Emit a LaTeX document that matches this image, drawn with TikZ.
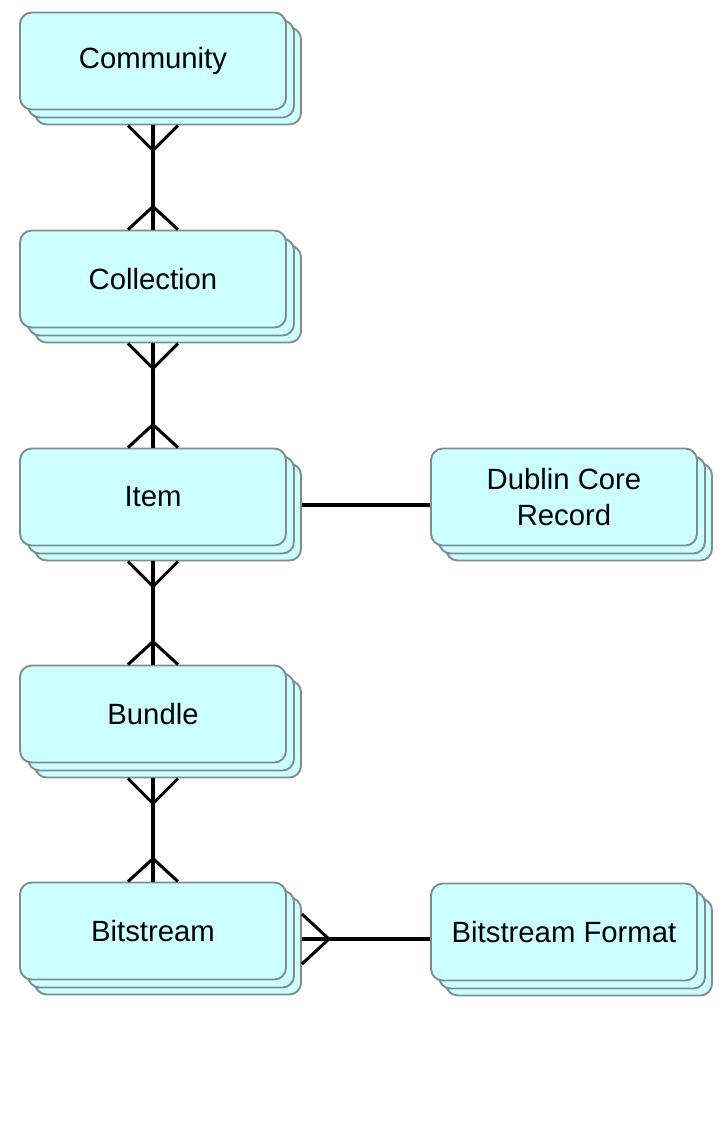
\documentclass[tikz,border=0pt]{standalone}
\usepackage{fontspec}
\setmainfont{Liberation Sans}
\usetikzlibrary{calc}
\definecolor{boxfill}{HTML}{CCFFFF}
\definecolor{boxline}{HTML}{7F8C8C}

\tikzset{
  entity/.style={draw=boxline, line width=1.6pt, fill=boxfill, rounded corners=10pt,
    minimum width=266*0.03cm, minimum height=97*0.03cm, inner sep=0pt,
    align=center, font=\fontsize{25}{31}\selectfont},
  rel/.style={line width=2.6pt, black}
}

% stacked entity: name, x, y (pixel centre of the front box), text
\newcommand{\entity}[4]{
  \node[entity] (#1-b) at (#2+15,#3+15) {};
  \node[entity] (#1-m) at (#2+8,#3+8) {};
  \node[entity] (#1) at (#2,#3) {#4};
}

\begin{document}
\begin{tikzpicture}[x=0.03cm, y=-0.03cm]
    \useasboundingbox (0,0) rectangle (722,1145);

    \entity{comm}{153}{61}{Community}
    \entity{coll}{153}{279}{Collection}
    \entity{item}{153}{497}{Item}
    \entity{bund}{153}{714}{Bundle}
    \entity{bits}{153}{931}{Bitstream}
    \entity{dc}{564}{497}{Dublin Core\\Record}
    \entity{fmt}{564}{932}{Bitstream Format}

    % many-to-many links down the column
    \foreach \a/\b in {comm/coll, coll/item, item/bund, bund/bits}{
      \draw[rel] (\a-b.south -| \a) -- (\b.north);
      \draw[rel] ($(\a-b.south -| \a)+(-25,0)$) -- ($(\a-b.south -| \a)+(0,25)$)
                 -- ($(\a-b.south -| \a)+(25,0)$);
      \draw[rel] ($(\b.north)+(-25,0)$) -- ($(\b.north)+(0,-23)$) -- ($(\b.north)+(25,0)$);
    }

    \draw[rel] (item-b.east |- item-m.east) -- (item-m.east -| dc.west);

    \draw[rel] (bits-b.east |- bits-m.east) -- (bits-m.east -| fmt.west);
    \draw[rel] ($(bits-b.east |- bits-m.east)+(0,-25)$) -- ($(bits-b.east |- bits-m.east)+(27,0)$)
               -- ($(bits-b.east |- bits-m.east)+(0,25)$);
\end{tikzpicture}
\end{document}
